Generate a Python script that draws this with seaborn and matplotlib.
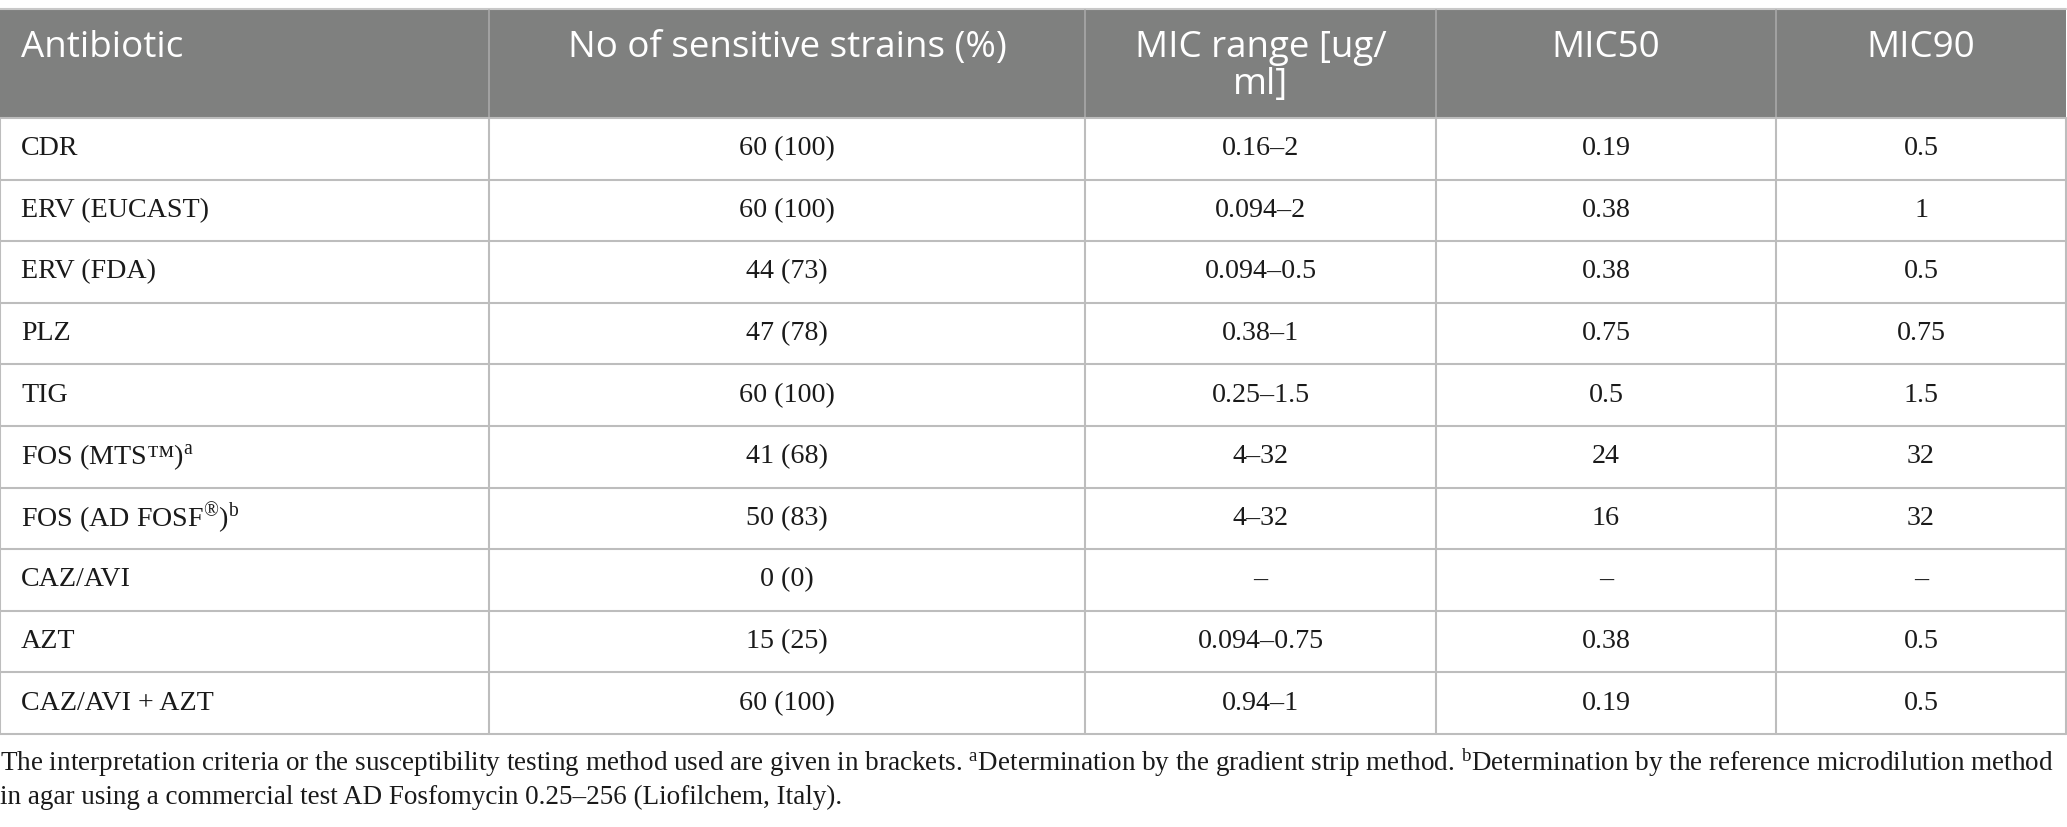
import matplotlib
matplotlib.use("Agg")
import matplotlib.pyplot as plt
import seaborn as sns

# table content
header = ["Antibiotic", "No of sensitive strains (%)", "MIC range [ug/\nml]", "MIC50", "MIC90"]
antibiotics = ["CDR", "ERV (EUCAST)", "ERV (FDA)", "PLZ", "TIG",
               "FOS (MTS\u2122)$^{\\mathrm{a}}$", "FOS (AD FOSF$^{\u00ae}$)$^{\\mathrm{b}}$",
               "CAZ/AVI", "AZT", "CAZ/AVI + AZT"]
sensitive = ["60 (100)", "60 (100)", "44 (73)", "47 (78)", "60 (100)",
             "41 (68)", "50 (83)", "0 (0)", "15 (25)", "60 (100)"]
mic_range = ["0.16\u20132", "0.094\u20132", "0.094\u20130.5", "0.38\u20131", "0.25\u20131.5",
             "4\u201332", "4\u201332", "\u2013", "0.094\u20130.75", "0.94\u20131"]
mic50 = ["0.19", "0.38", "0.38", "0.75", "0.5", "24", "16", "\u2013", "0.38", "0.19"]
mic90 = ["0.5", "1", "0.5", "0.75", "1.5", "32", "32", "\u2013", "0.5", "0.5"]
footnote = ["The interpretation criteria or the susceptibility testing method used are given in brackets. "
            "$^{\\mathrm{a}}$Determination by the gradient strip method. "
            "$^{\\mathrm{b}}$Determination by the reference microdilution method",
            "in agar using a commercial test AD Fosfomycin 0.25\u2013256 (Liofilchem, Italy)."]

col_edges = [0, 489, 1085, 1436, 1776, 2066]

sns.set_style("white")
plt.rcParams["mathtext.fontset"] = "custom"
plt.rcParams["mathtext.rm"] = "Liberation Serif"
plt.rcParams["mathtext.it"] = "Liberation Serif:italic"

fig = plt.figure(figsize=(20.67, 8.27), dpi=100)
ax = fig.add_axes([0, 0, 1, 1])
ax.set_xlim(0, 2067)
ax.set_ylim(827, 0)
ax.axis("off")

head_top, head_bot = 10, 118
row_h = 61.6
n = len(antibiotics)
table_bot = head_bot + n * row_h

# header band
ax.fill_between([0, 2066], head_top, head_bot, color="#7f807f", lw=0)
ax.plot([0, 2066], [head_top - 1, head_top - 1], color="#c8c8c8", lw=1.5)
for x in col_edges[1:-1]:
    ax.plot([x, x], [head_top, head_bot], color="#a8a8a8", lw=1.2)

hfont = dict(family=["Open Sans", "DejaVu Sans"], fontsize=26.5, color="white")
for j, h in enumerate(header):
    lines = h.split("\n")
    for k, line in enumerate(lines):
        y = 48 + k * 37
        if j == 0:
            ax.text(21, y, line, ha="left", va="center", **hfont)
        else:
            ax.text((col_edges[j] + col_edges[j + 1]) / 2, y, line, ha="center", va="center", **hfont)

# grid lines
for i in range(n + 1):
    y = head_bot + i * row_h
    ax.plot([0, 2066], [y, y], color="#bdbdbd", lw=1.5)
for x in col_edges:
    ax.plot([x, x], [head_bot, table_bot], color="#bdbdbd", lw=1.5)

bfont = dict(family=["Liberation Serif", "DejaVu Serif"], fontsize=20.2, color="#1a1a1a")
for i in range(n):
    yc = head_bot + (i + 0.5) * row_h
    ax.text(21, yc, antibiotics[i], ha="left", va="center", **bfont)
    for j, col in enumerate([sensitive, mic_range, mic50, mic90], start=1):
        ax.text((col_edges[j] + col_edges[j + 1]) / 2, yc, col[i], ha="center", va="center", **bfont)

ffont = dict(family=["Liberation Serif", "DejaVu Serif"], fontsize=19.5, color="#1a1a1a")
for k, line in enumerate(footnote):
    ax.text(0, 763 + k * 34, line, ha="left", va="center", **ffont)

fig.savefig("out.png", dpi=100)
